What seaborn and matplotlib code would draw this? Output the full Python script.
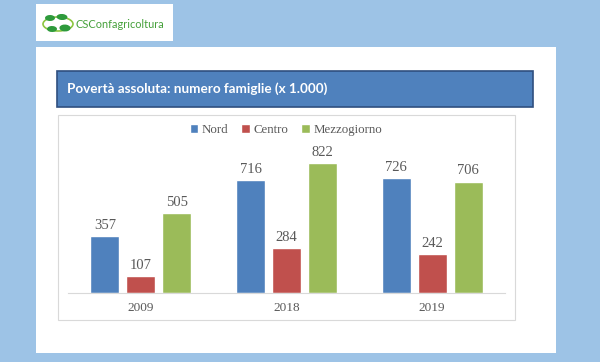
import matplotlib
matplotlib.use("Agg")
import matplotlib.pyplot as plt
from matplotlib.patches import Rectangle, Ellipse
import pandas as pd
import seaborn as sns

years = ["2009", "2018", "2019"]
regions = ["Nord", "Centro", "Mezzogiorno"]
nord = [357, 716, 726]
centro = [107, 284, 242]
mezzogiorno = [505, 822, 706]
colors = ["#4F81BD", "#C0504D", "#9BBB59"]
title = "Povertà assoluta: numero famiglie (x 1.000)"
logo_text = "CSConfagricoltura"

rows = []
for reg, vals in zip(regions, [nord, centro, mezzogiorno]):
    for y, v in zip(years, vals):
        rows.append({"year": y, "region": reg, "value": v})
df = pd.DataFrame(rows)

sns.set_style("white")
W, H = 600, 362
fig = plt.figure(figsize=(6, 3.62), dpi=100)
fig.patch.set_facecolor("#9DC3E6")


def rect(x0, y0, x1, y1, z, **kw):
    fig.patches.append(Rectangle((x0 / W, 1 - y1 / H), (x1 - x0) / W, (y1 - y0) / H,
                                 transform=fig.transFigure, zorder=z, **kw))


def ell(cx, cy, w, h, ang, z, **kw):
    fig.patches.append(Ellipse((cx / W, 1 - cy / H), w / W, h / H, angle=ang,
                               transform=fig.transFigure, zorder=z, **kw))


# logo box
rect(36, 4, 173, 40.5, -10, facecolor="white", edgecolor="none")
ell(58, 24, 30, 14, 0, -9, facecolor="none", edgecolor="#8CC63F", lw=1.2)
ell(50, 18, 10, 6, 30, -8, facecolor="#2E9A3C", edgecolor="none")
ell(62, 17, 11, 6, -20, -8, facecolor="#2E9A3C", edgecolor="none")
ell(52, 29, 10, 6, -30, -8, facecolor="#2E9A3C", edgecolor="none")
ell(65, 28, 11, 7, 25, -8, facecolor="#2E9A3C", edgecolor="none")
fig.text(76 / W, 1 - 24 / H, logo_text, color="#45A03A", fontsize=7.9,
         family="Lato", va="center", ha="left")

# slide
rect(36, 46.5, 556, 352.5, -10, facecolor="white", edgecolor="none")
# title bar
rect(57, 71, 533, 107, -9, facecolor="#4F81BD", edgecolor="#2F4F7F", lw=1.2)
fig.text(67 / W, 1 - 89 / H, title, color="white", fontsize=9.7, fontweight="bold",
         family="Lato", va="center", ha="left")
# chart box
rect(58, 114.5, 515, 320, -9, facecolor="white", edgecolor="#D9D9D9", lw=0.8)

ax = fig.add_axes([68 / W, 1 - 292.5 / H, 437 / W, 141.5 / H])
ax.set_facecolor("none")
sns.barplot(data=df, x="year", y="value", hue="region", hue_order=regions,
            order=years, palette=colors, width=0.74, gap=0.19, ax=ax,
            saturation=1, legend=True, errorbar=None)
ax.set_xlim(-0.5, 2.5)
ax.set_ylim(0, 900)
for c in ax.containers:
    ax.bar_label(c, padding=3, fontsize=10.5, color="#595959", family="Liberation Serif")
for s in ["top", "left", "right"]:
    ax.spines[s].set_visible(False)
ax.spines["bottom"].set_color("#D9D9D9")
ax.spines["bottom"].set_linewidth(0.8)
ax.set_yticks([])
ax.set_xlabel("")
ax.set_ylabel("")
ax.tick_params(axis="x", length=0, pad=7, labelsize=9.5, labelcolor="#595959")
for t in ax.get_xticklabels():
    t.set_family("Liberation Serif")

handles, labels = ax.get_legend_handles_labels()
ax.get_legend().remove()
leg = fig.legend(handles, labels, loc="center", bbox_to_anchor=(286 / W, 1 - 130 / H),
                 ncol=3, frameon=False, handlelength=0.65, handleheight=0.65,
                 handletextpad=0.3, columnspacing=1.0,
                 prop={"family": "Liberation Serif", "size": 9.3})
for t in leg.get_texts():
    t.set_color("#595959")

fig.savefig("out.png", dpi=100, facecolor=fig.get_facecolor())
